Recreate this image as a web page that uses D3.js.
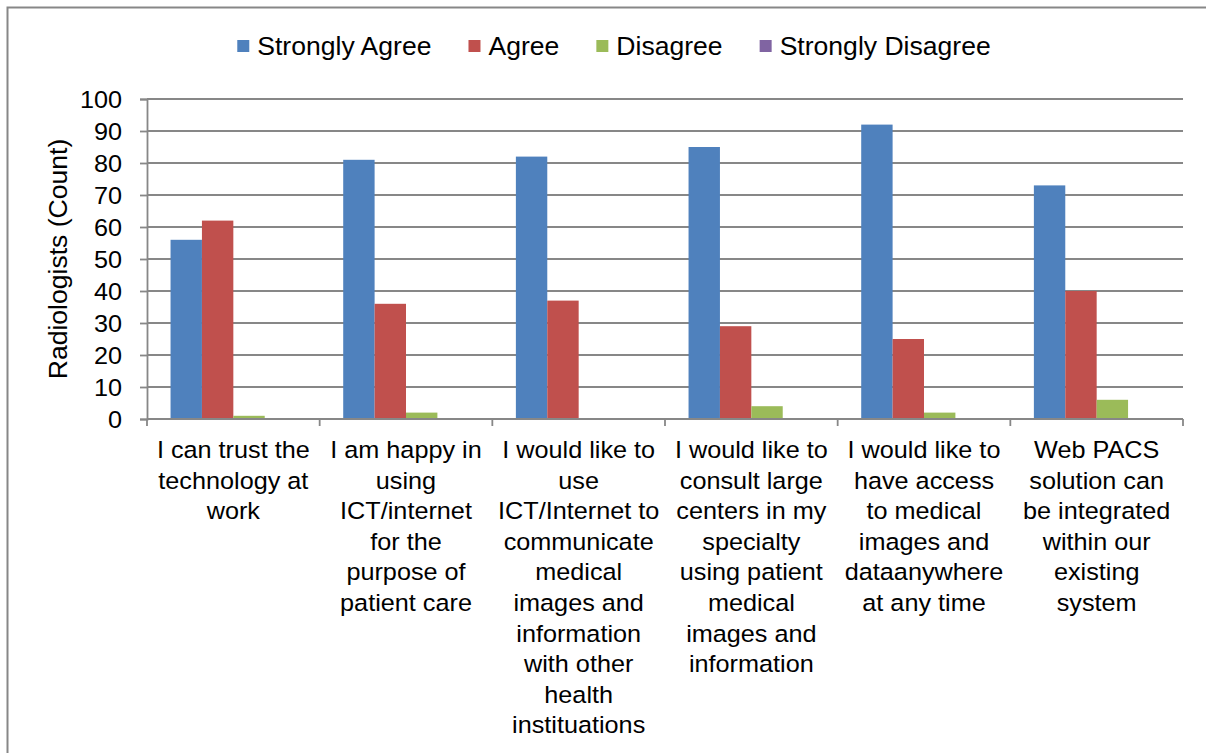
<!DOCTYPE html>
<html>
<head>
<meta charset="utf-8">
<script src="https://cdn.jsdelivr.net/npm/d3@7"></script>
<style>
  html, body { margin: 0; padding: 0; background: #fff; }
  svg { display: block; font-family: "Liberation Sans", Arial, sans-serif; }
</style>
</head>
<body>
<svg id="chart" width="1206" height="753"></svg>
<script>
// Survey responses of radiologists, counts per statement
const categories = [
  "I can trust the technology at work",
  "I am happy in using ICT/internet for the purpose of patient care",
  "I would like to use ICT/Internet to communicate medical images and information with other health instituations",
  "I would like to consult large centers in my specialty using patient medical images and information",
  "I would like to have access to medical images and dataanywhere at any time",
  "Web PACS solution can be integrated within our existing system"
];
// Wrapped lines of each category label
const categoryLines = [
  ["I can trust the", "technology at", "work"],
  ["I am happy in", "using", "ICT/internet", "for the", "purpose of", "patient care"],
  ["I would like to", "use", "ICT/Internet to", "communicate", "medical", "images and", "information", "with other", "health", "instituations"],
  ["I would like to", "consult large", "centers in my", "specialty", "using patient", "medical", "images and", "information"],
  ["I would like to", "have access", "to medical", "images and", "dataanywhere", "at any time"],
  ["Web PACS", "solution can", "be integrated", "within our", "existing", "system"]
];
const seriesNames = ["Strongly Agree", "Agree", "Disagree", "Strongly Disagree"];
const stronglyAgree    = [56, 81, 82, 85, 92, 73];
const agree            = [62, 36, 37, 29, 25, 40];
const disagree         = [1, 2, 0, 4, 2, 6];
const stronglyDisagree = [0, 0, 0, 0, 0, 0];
const yTicks = [0, 10, 20, 30, 40, 50, 60, 70, 80, 90, 100];
const yTitle = "Radiologists  (Count)";

const seriesValues = [stronglyAgree, agree, disagree, stronglyDisagree];
const colors = ["#4F81BD", "#C0504D", "#9BBB59", "#8064A2"];

const svg = d3.select("#chart");
const W = 1206, H = 753;
const plot = { left: 147, right: 1183, top: 99, bottom: 419 };
const gridColor = "#878787";
const fontSize = 24.5;
const legendFontSize = 25.8;
const stretch = 1.03; // horizontal widening of glyphs

// Outer frame (top and left edges)
svg.append("path")
  .attr("d", `M7.5,${H} V7.5 H${W}`)
  .attr("fill", "none")
  .attr("stroke", gridColor)
  .attr("stroke-width", 2);

const x = d3.scaleBand().domain(categories).range([plot.left, plot.right]).padding(0);
const xs = d3.scaleBand().domain(seriesNames).range([0, x.bandwidth()])
  .paddingInner(0).paddingOuter(0.75);
const y = d3.scaleLinear().domain([0, 100]).range([plot.bottom, plot.top]);

// Horizontal gridlines
svg.append("g")
  .selectAll("line")
  .data(yTicks.filter(t => t > 0))
  .join("line")
  .attr("x1", plot.left).attr("x2", plot.right)
  .attr("y1", d => y(d)).attr("y2", d => y(d))
  .attr("stroke", gridColor)
  .attr("stroke-width", 1.8);

// Bars
const rows = categories.map((c, i) => ({
  cat: c,
  vals: seriesNames.map((s, j) => ({ s, v: seriesValues[j][i], color: colors[j] }))
}));
svg.append("g")
  .selectAll("g")
  .data(rows)
  .join("g")
  .attr("transform", d => `translate(${x(d.cat)},0)`)
  .selectAll("rect")
  .data(d => d.vals)
  .join("rect")
  .attr("x", d => xs(d.s))
  .attr("width", xs.bandwidth())
  .attr("y", d => y(d.v))
  .attr("height", d => y(0) - y(d.v))
  .attr("fill", d => d.color);

// Helper for text with horizontally widened glyphs
function stretchedText(g, tx, ty, str, anchor, size) {
  return g.append("text")
    .attr("transform", `translate(${tx},${ty}) scale(${stretch},1)`)
    .attr("text-anchor", anchor)
    .attr("font-size", size || fontSize)
    .attr("fill", "#000")
    .text(str);
}

// Y axis
const yAxis = d3.axisLeft(y).tickValues(yTicks).tickSize(7).tickFormat("");
const yg = svg.append("g").attr("transform", `translate(${plot.left},0)`).call(yAxis);
yg.select(".domain").attr("stroke", gridColor).attr("stroke-width", 1.8);
yg.selectAll(".tick line").attr("stroke", gridColor).attr("stroke-width", 1.8);
const ylab = svg.append("g");
yTicks.forEach(t => stretchedText(ylab, 122, y(t) + 8.5, String(t), "end"));

// X axis (category boundaries as ticks)
svg.append("line")
  .attr("x1", plot.left).attr("x2", plot.right)
  .attr("y1", plot.bottom).attr("y2", plot.bottom)
  .attr("stroke", gridColor).attr("stroke-width", 1.8);
const bounds = categories.map(c => x(c)).concat([plot.right]);
svg.append("g").selectAll("line")
  .data(bounds)
  .join("line")
  .attr("x1", d => d).attr("x2", d => d)
  .attr("y1", plot.bottom).attr("y2", plot.bottom + 7)
  .attr("stroke", gridColor).attr("stroke-width", 1.8);

// Category labels
const xlab = svg.append("g");
categories.forEach((c, i) => {
  const cx = x(c) + x.bandwidth() / 2;
  categoryLines[i].forEach((ln, k) => {
    stretchedText(xlab, cx, 458 + k * 30.6, ln, "middle");
  });
});

// Y axis title
svg.append("text")
  .attr("transform", `translate(67,${(plot.top + plot.bottom) / 2}) rotate(-90) scale(${stretch},1)`)
  .attr("text-anchor", "middle")
  .attr("font-size", legendFontSize)
  .text(yTitle);

// Legend
const legend = svg.append("g");
let lx = 0;
seriesNames.forEach((s, i) => {
  const it = legend.append("g");
  it.append("rect").attr("x", 0).attr("y", -6).attr("width", 12).attr("height", 12).attr("fill", colors[i]);
  const t = stretchedText(it, 20, 9, s, "start", legendFontSize);
  const w = 20 + t.node().getComputedTextLength() * stretch;
  it.attr("transform", `translate(${lx},0)`);
  lx += w + 37;
});
const legendWidth = lx - 37;
legend.attr("transform", `translate(${614 - legendWidth / 2},46)`);
</script>
</body>
</html>
